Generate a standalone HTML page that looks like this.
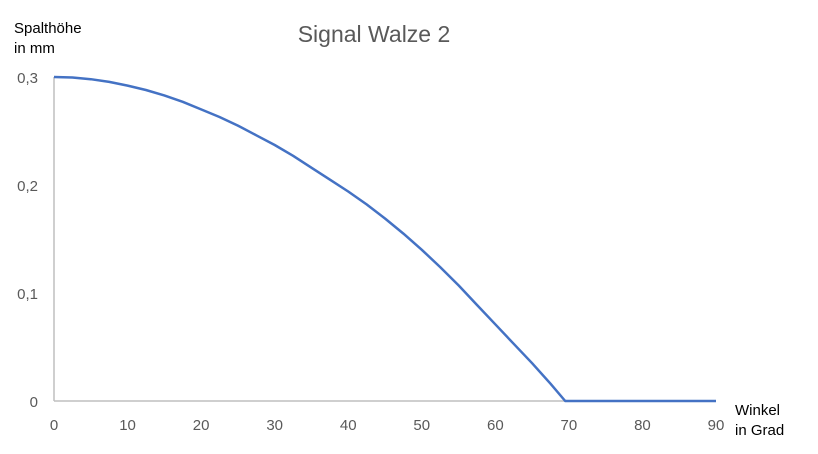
<!DOCTYPE html>
<html><head><meta charset="utf-8"><style>
body{margin:0;background:#fff;}
svg{display:block;font-family:"Liberation Sans",Calibri,sans-serif;}
</style></head><body>
<svg id="chart" width="818" height="454">
<text x="374" y="42" font-size="23" fill="#595959" text-anchor="middle">Signal Walze 2</text>
<text x="14" y="33" font-size="15" fill="#000"><tspan x="14">Spalthöhe</tspan><tspan x="14" dy="20">in mm</tspan></text>
<text x="735" y="415" font-size="15" fill="#000"><tspan x="735">Winkel</tspan><tspan x="735" dy="20">in Grad</tspan></text>
<g id="axes"></g>
<g id="ticks"></g>
<path id="line" fill="none" stroke="#4472c4" stroke-width="2.5" stroke-linejoin="round"/>
</svg>
<script>
const xValues=[0,2.5,5,7.5,10,12.5,15,17.5,20,22.5,25,27.5,30,32.5,35,37.5,40,42.5,45,47.5,50,52.5,55,57.5,60,62.5,65,67.5,69.5,70,80,90];
const yValues=[0.3,0.2995,0.298,0.2955,0.292,0.288,0.283,0.277,0.270,0.263,0.255,0.246,0.237,0.227,0.216,0.205,0.194,0.182,0.169,0.155,0.140,0.124,0.107,0.089,0.071,0.053,0.035,0.016,0,0,0,0];
const xTicks=[0,10,20,30,40,50,60,70,80,90];
const yTicks=[0,0.1,0.2,0.3];
const yTickLabels=["0","0,1","0,2","0,3"];
const X0=54,X1=716,Y0=401,Y1=77;
const sx=v=>X0+(v-0)/90*(X1-X0);
const sy=v=>Y0-(v/0.3)*(Y0-Y1);
const NS="http://www.w3.org/2000/svg";
const axes=document.getElementById('axes'),ticks=document.getElementById('ticks');
function ln(x1,y1,x2,y2,name){const l=document.createElementNS(NS,'line');
l.setAttribute('x1',x1);l.setAttribute('y1',y1);l.setAttribute('x2',x2);l.setAttribute('y2',y2);
l.setAttribute('stroke','#bfbfbf');l.setAttribute('stroke-width','1.5');


axes.appendChild(l);}
ln(X0,Y1,X0,Y0,'y-axis-line');ln(X0,Y0,X1,Y0,'x-axis-line');
xTicks.forEach(t=>{const e=document.createElementNS(NS,'text');
e.setAttribute('x',sx(t));e.setAttribute('y',430);e.setAttribute('text-anchor','middle');
e.setAttribute('font-size','15');e.setAttribute('fill','#595959');e.textContent=t;


ticks.appendChild(e);});
yTicks.forEach((t,i)=>{const e=document.createElementNS(NS,'text');
e.setAttribute('x',38);e.setAttribute('y',sy(t)+6);e.setAttribute('text-anchor','end');
e.setAttribute('font-size','15');e.setAttribute('fill','#595959');e.textContent=yTickLabels[i];


ticks.appendChild(e);});
document.getElementById('line').setAttribute('d',xValues.map((x,i)=>(i?'L':'M')+sx(x).toFixed(1)+','+sy(yValues[i]).toFixed(1)).join(''));
</script>
</body></html>
